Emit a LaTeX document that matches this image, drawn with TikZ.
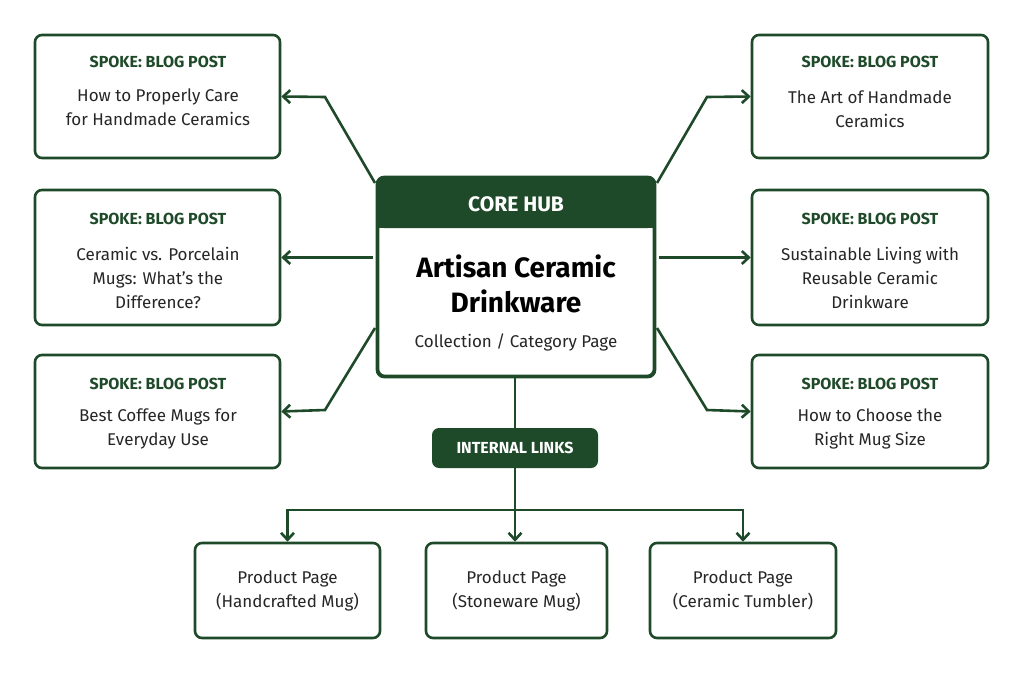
\documentclass[tikz,border=0pt]{standalone}
\usepackage{fontspec}
\setmainfont{Fira Sans}
\usetikzlibrary{arrows.meta,positioning}
\definecolor{dg}{HTML}{1F4A2A}
\begin{document}
\begin{tikzpicture}[x=1pt,y=-1pt,
 box/.style={draw=dg,line width=2.6pt,rounded corners=7pt,fill=white,inner sep=0pt},
 arr/.style={draw=dg,line width=2.6pt,-{Straight Barb[length=7pt,width=13pt]}},
 ln/.style={draw=dg,line width=2.6pt},
 tt/.style={text=dg,font=\bfseries\fontsize{16}{18}\selectfont},
 bt/.style={text=black!85,font=\fontsize{17}{24}\selectfont,align=center}]
\useasboundingbox[fill=white] (0,0) rectangle (1024,674);
\node[box,minimum width=245pt,minimum height=123pt] (L1) at (157.5,96.5) {};
\node[box,minimum width=245pt,minimum height=135pt] (L2) at (157.5,257.5) {};
\node[box,minimum width=245pt,minimum height=113pt] (L3) at (157.5,411.5) {};
\node[box,minimum width=236pt,minimum height=123pt] (R1) at (870,96.5) {};
\node[box,minimum width=236pt,minimum height=135pt] (R2) at (870,257.5) {};
\node[box,minimum width=236pt,minimum height=113pt] (R3) at (870,411.5) {};
\node[tt] (L1t) at (158,62) {SPOKE: BLOG POST};
\node[bt] (L1b) at (158,107) {How to Properly Care\\for Handmade Ceramics};
\node[tt] (L2t) at (158,219) {SPOKE: BLOG POST};
\node[bt] (L2b) at (158,278) {Ceramic vs. Porcelain\\Mugs: What’s the\\Difference?};
\node[tt] (L3t) at (158,384) {SPOKE: BLOG POST};
\node[bt] (L3b) at (158,429) {Best Coffee Mugs for\\Everyday Use};
\node[tt] (R1t) at (870,62) {SPOKE: BLOG POST};
\node[bt] (R1b) at (870,109) {The Art of Handmade\\Ceramics};
\node[tt] (R2t) at (870,219) {SPOKE: BLOG POST};
\node[bt] (R2b) at (870,278) {Sustainable Living with\\Reusable Ceramic\\Drinkware};
\node[tt] (R3t) at (870,384) {SPOKE: BLOG POST};
\node[bt] (R3b) at (870,429) {How to Choose the\\Right Mug Size};
% hub
\node[box,minimum width=276pt,minimum height=198pt] (H) at (516,277) {};
\fill[dg,rounded corners=7pt] (377,177) rectangle (655,228);
\fill[dg] (377,212) rectangle (655,228);
\draw[ln,rounded corners=7pt] (377,177) rectangle (655,377);
\node[text=white,font=\bfseries\fontsize{21}{24}\selectfont] (Ht) at (516,204) {CORE HUB};
\node[text=black,font=\bfseries\fontsize{28}{35}\selectfont,align=center] (Hb) at (516,284) {Artisan Ceramic\\Drinkware};
\node[bt] (Hs) at (516,342) {Collection / Category Page};
\coordinate (a1) at (375,183); \coordinate (a3) at (375,328);
\coordinate (b1) at (657,183); \coordinate (b3) at (657,328);
\draw[arr] (a1) -- (325,97) -- (L1.east);
\draw[arr] (H.west |- L2) ++(-4,0) -- (L2.east);
\draw[arr] (a3) -- (325,410) -- (L3.east);
\draw[arr] (b1) -- (707,97) -- (R1.west);
\draw[arr] (H.east |- R2) ++(4,0) -- (R2.west);
\draw[arr] (b3) -- (707,410) -- (R3.west);
\node[fill=dg,rounded corners=7pt,minimum width=166pt,minimum height=40pt,text=white,font=\bfseries\fontsize{16}{18}\selectfont] (IL) at (515,448) {INTERNAL LINKS};
\draw[ln] (H.south -| IL) -- (IL.north);
\node[box,minimum width=185pt,minimum height=95pt,bt] (P1) at (287.5,590.5) {Product Page\\(Handcrafted Mug)};
\node[box,minimum width=181pt,minimum height=95pt,bt] (P2) at (516.5,590.5) {Product Page\\(Stoneware Mug)};
\node[box,minimum width=186pt,minimum height=95pt,bt] (P3) at (743,590.5) {Product Page\\(Ceramic Tumbler)};
\coordinate (j) at (515,510);
\draw[arr] (IL.south) -- (P2.north -| IL);
\draw[arr] (j) -| (P1.north);
\draw[arr] (j) -| (P3.north);
\end{tikzpicture}
\end{document}
